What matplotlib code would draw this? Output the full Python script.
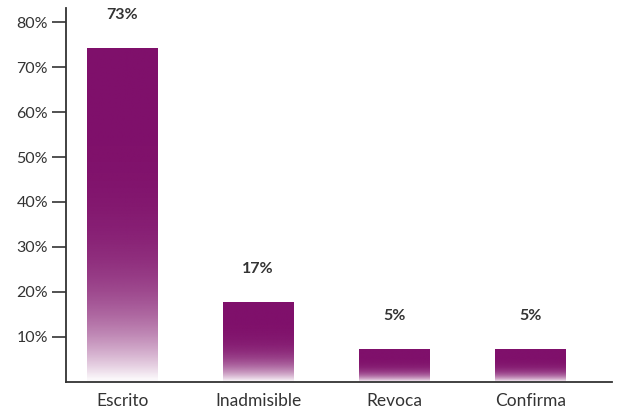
import matplotlib.pyplot as plt
import numpy as np

# data
categories = ['Escrito', 'Inadmisible', 'Revoca', 'Confirma']
values = [74.2, 17.8, 7.3, 7.3]
value_labels = ['73%', '17%', '5%', '5%']
yticks = [10, 20, 30, 40, 50, 60, 70, 80]

plt.rcParams['font.family'] = ['Lato', 'DejaVu Sans']

purple = np.array([0x7f, 0x0f, 0x6a]) / 255.0
text_color = '#333333'

fig = plt.figure(figsize=(6.19, 4.08), dpi=100)
ax = fig.add_axes([0.1066, 0.064, 0.989 - 0.1066, 0.980 - 0.064])

x = np.arange(len(categories))
bars = ax.bar(x, values, width=0.522, facecolor='none', edgecolor='none')

# vertical gradient: solid purple on top, fading to white at the base
t = np.linspace(0, 1, 256)
alpha = 1 - t ** 4.5
grad = np.ones((256, 1, 4))
grad[:, 0, :3] = purple
grad[:, 0, 3] = np.clip(alpha, 0.03, 1)

for bar, lab in zip(bars, value_labels):
    bx, by = bar.get_x(), bar.get_y()
    bw, bh = bar.get_width(), bar.get_height()
    im = ax.imshow(grad, extent=[bx, bx + bw, by, by + bh], aspect='auto',
                   origin='upper', interpolation='bilinear', zorder=2)
    im.set_clip_path(bar)
    ax.annotate(lab, (bx + bw / 2, by + bh), xytext=(0, 24),
                textcoords='offset points', ha='center', va='center',
                fontsize=11.5, fontweight='bold', color=text_color)

ax.set_xlim(-0.413, 3.603)
ax.set_ylim(0, 83.1)
ax.set_xticks(x)
ax.set_xticklabels(categories, fontsize=12.5, color=text_color)
ax.set_yticks(yticks)
ax.set_yticklabels([f'{v}%' for v in yticks], fontsize=11.5, color=text_color)
ax.tick_params(axis='x', length=0, pad=8)
ax.tick_params(axis='y', length=10, width=1.2, color=text_color, pad=3)

for side in ['top', 'right']:
    ax.spines[side].set_visible(False)
for side in ['left', 'bottom']:
    ax.spines[side].set_color(text_color)
    ax.spines[side].set_linewidth(1.3)

fig.savefig('out.png', dpi=100)
